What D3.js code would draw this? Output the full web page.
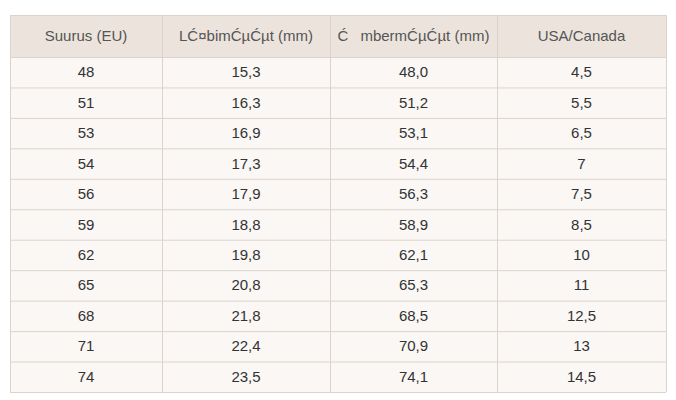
<html>
<body style="margin:0;background:#fff">
<svg id="tbl"></svg>
<script src="https://d3js.org/d3.v7.min.js"></script>
<script>
var headers = ["Suurus (EU)", "Läbimõõt (mm)", "Ümbermõõt (mm)", "USA/Canada"];
var sizeEU = ["48","51","53","54","56","59","62","65","68","71","74"];
var diameter = ["15,3","16,3","16,9","17,3","17,9","18,8","19,8","20,8","21,8","22,4","23,5"];
var circumference = ["48,0","51,2","53,1","54,4","56,3","58,9","62,1","65,3","68,5","70,9","74,1"];
var usaCanada = ["4,5","5,5","6,5","7","7,5","8,5","10","11","12,5","13","14,5"];

var rows = sizeEU.map(function(s, i) { return [s, diameter[i], circumference[i], usaCanada[i]]; });

var svg = d3.select("#tbl").attr("width", 676).attr("height", 400);

var tLeft = 10, tRight = 666, tTop = 15, headH = 42, tBottom = 392;

// column edges
var colEdges = [10, 162, 330, 497, 666];
var x = function(i) { return (colEdges[i] + colEdges[i + 1]) / 2; };

var y = d3.scaleBand()
    .domain(d3.range(rows.length))
    .range([tTop + headH, tBottom]);

// backgrounds
svg.append("rect").attr("x", tLeft).attr("y", tTop).attr("width", tRight - tLeft).attr("height", headH)
    .attr("fill", "#ebe3dc");
svg.append("rect").attr("x", tLeft).attr("y", tTop + headH).attr("width", tRight - tLeft).attr("height", tBottom - tTop - headH)
    .attr("fill", "#faf7f5");

// horizontal lines
var hl = [tTop, tTop + headH].concat(d3.range(1, rows.length + 1).map(function(i) { return y(i - 1) + y.bandwidth(); }));
svg.selectAll(".h").data(hl).enter().append("line")
    .attr("x1", tLeft).attr("x2", tRight)
    .attr("y1", function(d) { return d + 0.5; }).attr("y2", function(d) { return d + 0.5; })
    .attr("stroke", "#dcd4cc");

svg.selectAll(".v").data(colEdges).enter().append("line")
    .attr("x1", function(d) { return d + 0.5; }).attr("x2", function(d) { return d + 0.5; })
    .attr("y1", tTop).attr("y2", tBottom)
    .attr("stroke", "#dcd4cc");

svg.selectAll(".head").data(headers).enter().append("text")
    .attr("x", function(d, i) { return x(i); })
    .attr("y", tTop + headH / 2 + 5)
    .attr("text-anchor", "middle")
    .attr("font-family", "Liberation Sans, Arial, sans-serif")
    .attr("font-size", 15)
    .attr("fill", "#555")
    .text(function(d) { return d; });

rows.forEach(function(r, ri) {
    svg.selectAll(".r" + ri).data(r).enter().append("text")
        .attr("x", function(d, i) { return x(i); })
        .attr("y", y(ri) + y.bandwidth() / 2 + 5)
        .attr("text-anchor", "middle")
        .attr("font-family", "Liberation Sans, Arial, sans-serif")
        .attr("font-size", 15)
        .attr("fill", "#333")
        .text(function(d) { return d; });
});
</script>
</body>
</html>
